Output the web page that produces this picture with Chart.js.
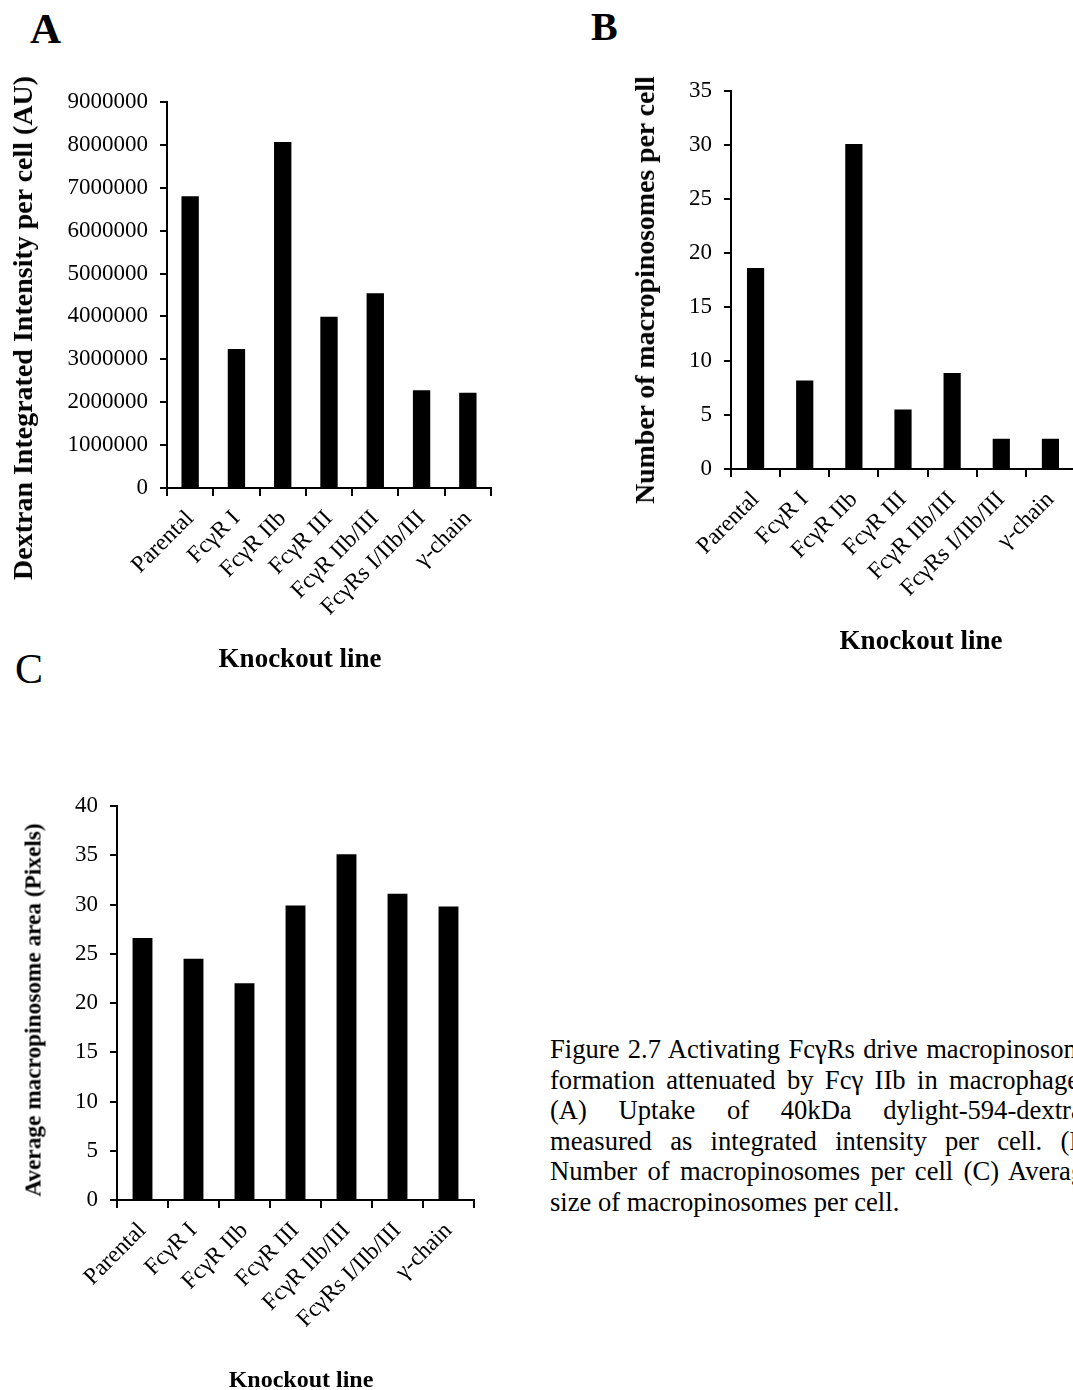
<!DOCTYPE html>
<html>
<head>
<meta charset="utf-8">
<title>Figure 2.7</title>
<script src="https://cdn.jsdelivr.net/npm/chart.js@4.4.1/dist/chart.umd.min.js"></script>
<style>
  html, body { margin: 0; padding: 0; background: #fff; overflow: hidden; }
  body { width: 1073px; height: 1390px; position: relative; font-family: 'Liberation Serif', 'Times New Roman', serif; color: #000; }
  canvas { position: absolute; }
  .txt { position: absolute; white-space: nowrap; line-height: 1; }
  .panel { font-weight: bold; }
  .ytitle { font-weight: bold; line-height: normal; transform: translate(-50%, -50%) rotate(-90deg); }
  .xtitle { font-weight: bold; line-height: normal; transform: translate(-50%, -50%); }
  #caption { position: absolute; left: 550px; top: 1034px; width: 546px; font-size: 26.6px; line-height: 30.6px; }
  #caption span { display: block; text-align: justify; text-align-last: justify; white-space: nowrap; }
  #caption span.last { text-align-last: left; }
</style>
</head>
<body>

<div class="txt panel" style="left:30px; top:7px; font-size:43px;">A</div>
<div class="txt panel" style="left:591px; top:7px; font-size:40px;">B</div>
<div class="txt" style="left:15px; top:648px; font-size:42px;">C</div>

<canvas id="chartA" width="520" height="690" style="left:0; top:0;"></canvas>
<canvas id="chartB" width="500" height="680" style="left:600px; top:0;"></canvas>
<canvas id="chartC" width="520" height="690" style="left:0; top:700px;"></canvas>

<div class="txt ytitle" style="left:23px; top:328px; font-size:28px;">Dextran Integrated Intensity per cell (AU)</div>
<div class="txt xtitle" style="left:300px; top:658px; font-size:27px;">Knockout line</div>

<div class="txt ytitle" style="left:645px; top:290px; font-size:27.8px;">Number of macropinosomes per cell</div>
<div class="txt xtitle" style="left:921px; top:640px; font-size:27px;">Knockout line</div>

<div class="txt ytitle" style="left:33px; top:1010px; font-size:23.3px;">Average macropinosome area (Pixels)</div>
<div class="txt xtitle" style="left:301px; top:1379px; font-size:24px;">Knockout line</div>

<div id="caption">
  <span>Figure 2.7 Activating FcγRs drive macropinosome</span>
  <span>formation attenuated by Fcγ IIb in macrophages.</span>
  <span>(A) Uptake of 40kDa dylight-594-dextran</span>
  <span>measured as integrated intensity per cell. (B)</span>
  <span>Number of macropinosomes per cell (C) Average</span>
  <span class="last">size of macropinosomes per cell.</span>
</div>

<script>
const knockoutLines = ['Parental', 'FcγR I', 'FcγR IIb', 'FcγR III', 'FcγR IIb/III', 'FcγRs I/IIb/III', 'γ-chain'];

// A: dextran integrated intensity per cell (AU)
const dextranIntensity = [6800000, 3240000, 8070000, 3990000, 4540000, 2280000, 2220000];
const dextranTicks = { max: 9000000, step: 1000000 };

// B: number of macropinosomes per cell
const macropinosomeCount = [18.6, 8.2, 30.1, 5.5, 8.9, 2.8, 2.8];
const countTicks = { max: 35, step: 5 };

// C: average macropinosome area (pixels)
const macropinosomeArea = [26.6, 24.5, 22.0, 29.9, 35.1, 31.1, 29.8];
const areaTicks = { max: 40, step: 5 };

const serif = 'Liberation Serif';

function makeBarChart(canvasId, values, yTicks, box) {
  return new Chart(document.getElementById(canvasId), {
    type: 'bar',
    data: {
      labels: knockoutLines,
      datasets: [{
        data: values,
        backgroundColor: '#000',
        borderWidth: 0,
        categoryPercentage: 1,
        barPercentage: box.barWidth
      }]
    },
    options: {
      responsive: false,
      animation: false,
      layout: { padding: { top: box.top, right: box.right, left: 0, bottom: 0 } },
      plugins: { legend: { display: false }, tooltip: { enabled: false } },
      scales: {
        x: {
          afterFit: scale => { scale.height = box.xHeight; },
          grid: { drawOnChartArea: false, drawTicks: true, tickLength: 8, color: '#000', lineWidth: 2, offset: true },
          border: { display: true, color: '#000', width: 2 },
          ticks: {
            color: '#000',
            font: { family: serif, size: 23.5 },
            minRotation: 45,
            maxRotation: 45,
            autoSkip: false,
            padding: 9
          }
        },
        y: {
          min: 0,
          max: yTicks.max,
          afterFit: scale => { scale.width = box.yWidth; },
          grid: { drawOnChartArea: false, drawTicks: true, tickLength: 7, color: '#000', lineWidth: 2 },
          border: { display: true, color: '#000', width: 2 },
          ticks: {
            stepSize: yTicks.step,
            color: '#000',
            font: { family: serif, size: 23 },
            padding: 12,
            callback: value => String(value)
          }
        }
      }
    }
  });
}

makeBarChart('chartA', dextranIntensity, dextranTicks,
  { top: 102, right: 29, yWidth: 167, xHeight: 202, barWidth: 0.375 });
makeBarChart('chartB', macropinosomeCount, countTicks,
  { top: 91, right: 25, yWidth: 131, xHeight: 211, barWidth: 0.35 });
makeBarChart('chartC', macropinosomeArea, areaTicks,
  { top: 106, right: 46, yWidth: 117, xHeight: 190, barWidth: 0.39 });
</script>
</body>
</html>
